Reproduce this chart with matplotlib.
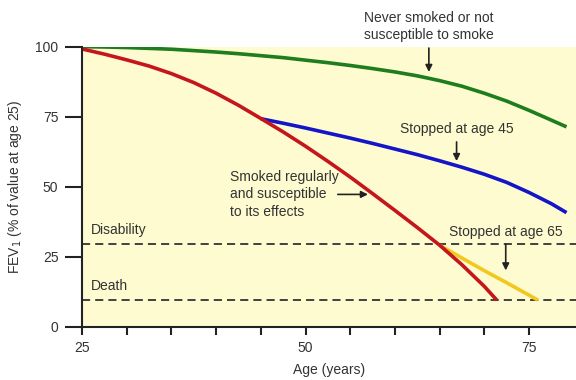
import numpy as np
import matplotlib.pyplot as plt

plt.rcParams['font.family'] = ['Liberation Sans', 'DejaVu Sans']

# values (FEV1 as % of value at age 25)
age_never = [25, 27.5, 30, 32.5, 35, 37.5, 40, 42.5, 45, 47.5, 50, 52.5, 55, 57.5,
             60, 62.5, 65, 67.5, 70, 72.5, 75, 77.5, 79.2]
fev_never = [100, 99.9, 99.7, 99.4, 99.1, 98.6, 98.1, 97.5, 96.8, 96.1, 95.2, 94.3, 93.3, 92.2,
             91.0, 89.6, 87.9, 85.9, 83.4, 80.6, 77.3, 73.8, 71.4]

age_smoker = [25, 27.5, 30, 32.5, 35, 37.5, 40, 42.5, 45, 47.5, 50, 52.5, 55, 57.5,
              60, 62.5, 65, 67.5, 70, 71.4]
fev_smoker = [99.2, 97.35, 95.3, 93.1, 90.4, 87.2, 83.4, 79.1, 74.4, 69.6, 64.5, 59.1, 53.5, 47.6,
              41.6, 35.5, 29.2, 22.2, 14.5, 9.6]

age_stop45 = [45, 47.5, 50, 52.5, 55, 57.5, 60, 62.5, 65, 67.5, 70, 72.5, 75, 77.5, 79.2]
fev_stop45 = [74.3, 72.7, 71.0, 69.2, 67.4, 65.5, 63.5, 61.5, 59.3, 57.0, 54.5, 51.6, 48.0, 44.0, 40.8]

age_stop65 = [65, 67.5, 70, 72.5, 76]
fev_stop65 = [29.2, 24.6, 20.1, 15.8, 9.6]

disability = 29.5
death = 9.5

fig = plt.figure(figsize=(5.76, 3.8), dpi=100)
ax = fig.add_axes([0.1424, 0.1395, 0.8576, 0.7376])
ax.set_facecolor('#fdfbcf')

ax.axhline(disability, color='#333333', lw=1.3, ls=(0, (4.5, 2.8)))
ax.axhline(death, color='#333333', lw=1.3, ls=(0, (4.5, 2.8)))

ax.plot(age_never, fev_never, color='#1e7d1e', lw=2.6, solid_capstyle='butt')
ax.plot(age_stop45, fev_stop45, color='#1414c8', lw=2.6, solid_capstyle='butt')
ax.plot(age_stop65, fev_stop65, color='#f2c81e', lw=2.6, solid_capstyle='butt')
ax.plot(age_smoker, fev_smoker, color='#c4161c', lw=2.6, solid_capstyle='butt')

ax.set_xlim(25, 80.26)
ax.set_ylim(0, 100)

for s in ['top', 'right']:
    ax.spines[s].set_visible(False)
for s in ['left', 'bottom']:
    ax.spines[s].set_linewidth(1.5)
    ax.spines[s].set_color('#222222')

ax.set_xticks([25, 50, 75])
ax.set_xticks([30, 35, 40, 45, 55, 60, 65, 70], minor=True)
ax.set_yticks([0, 25, 50, 75, 100])
ax.tick_params(axis='x', which='both', length=6, width=1.5, color='#222222',
               labelsize=10, labelcolor='#333333', pad=4)
ax.tick_params(axis='y', length=12, width=1.5, color='#222222',
               labelsize=10, labelcolor='#333333', pad=5)

ax.set_xlabel('Age (years)', fontsize=10, color='#333333', labelpad=6)
ax.set_ylabel('FEV$_1$ (% of value at age 25)', fontsize=10, color='#333333', labelpad=8)

txt = dict(fontsize=10, color='#333333')
ax.text(26, disability + 2.5, 'Disability', ha='left', va='bottom', **txt)
ax.text(26, death + 2.5, 'Death', ha='left', va='bottom', **txt)

arrow = dict(arrowstyle='-|>', color='#222222', lw=1.2, mutation_scale=10)

ax.annotate('Never smoked or not\nsusceptible to smoke', xy=(63.8, 90.0), xytext=(63.8, 101.5),
            ha='center', va='bottom', annotation_clip=False, linespacing=1.3,
            arrowprops=arrow, **txt)
ax.annotate('Stopped at age 45', xy=(66.9, 58.2), xytext=(66.9, 68),
            ha='center', va='bottom', arrowprops=arrow, **txt)
ax.annotate('Stopped at age 65', xy=(72.4, 19.2), xytext=(72.4, 31.5),
            ha='center', va='bottom', arrowprops=arrow, **txt)
ax.annotate('', xy=(57.3, 47.3), xytext=(53.3, 47.3), arrowprops=arrow)
ax.text(41.5, 47.3, 'Smoked regularly\nand susceptible\nto its effects', ha='left', va='center',
        linespacing=1.3, **txt)

fig.savefig('out.png', dpi=100)
